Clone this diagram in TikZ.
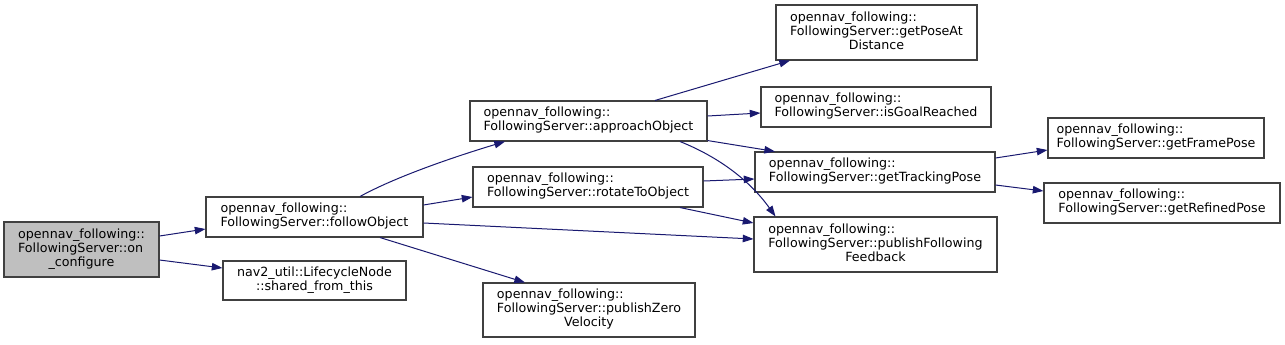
\documentclass[tikz,border=0pt]{standalone}
\usepackage{fontspec}
\setmainfont{DejaVu Sans}
\usetikzlibrary{arrows.meta,calc}
\definecolor{edgeblue}{HTML}{191970}
\definecolor{boxline}{HTML}{404040}
\definecolor{rootfill}{HTML}{BFBFBF}
\tikzset{
  box/.style={draw=boxline, line width=0.8pt, fill=white, inner sep=0pt, font=\fontsize{9.5}{10.6}\selectfont},
  root/.style={box, fill=rootfill},
  edge/.style={draw=edgeblue, line width=0.75pt, -{Triangle[length=8pt,width=5.6pt]}}
}
\newcommand{\twol}[2]{\begin{tabular}{@{}l@{}}#1\\#2\end{tabular}}
\newcommand{\threel}[3]{\begin{tabular}{@{}l@{}}#1\\#2\\\multicolumn{1}{@{}c@{}}{#3}\end{tabular}}
\newcommand{\twoc}[2]{\begin{tabular}{@{}c@{}}#1\\#2\end{tabular}}
\begin{document}
\begin{tikzpicture}[x=0.75pt,y=-0.75pt]
\useasboundingbox (0,0) rectangle (1285,344);
\fill[white] (0,0) rectangle (1285,344);
\node[root, minimum width=116.25pt, minimum height=41.25pt] (oc) at (81.5,249.5) {\threel{opennav\_following::}{FollowingServer::on}{\_configure}};
\node[box, minimum width=162.75pt, minimum height=30pt] (fo) at (314.5,217) {\twol{opennav\_following::}{FollowingServer::followObject}};
\node[box, minimum width=137.25pt, minimum height=29.25pt] (sft) at (314.5,280.5) {\twoc{nav2\_util::LifecycleNode}{::shared\_from\_this}};
\node[box, minimum width=177.75pt, minimum height=30pt] (ao) at (588.5,121) {\twol{opennav\_following::}{FollowingServer::approachObject}};
\node[box, minimum width=172.5pt, minimum height=30pt] (ro) at (588,187) {\twol{opennav\_following::}{FollowingServer::rotateToObject}};
\node[box, minimum width=159pt, minimum height=40.5pt] (pzv) at (589,310) {\threel{opennav\_following::}{FollowingServer::publishZero}{Velocity}};
\node[box, minimum width=150.75pt, minimum height=41.25pt] (gpad) at (876.5,32.5) {\threel{opennav\_following::}{FollowingServer::getPoseAt}{Distance}};
\node[box, minimum width=172.5pt, minimum height=30pt] (igr) at (876,107) {\twol{opennav\_following::}{FollowingServer::isGoalReached}};
\node[box, minimum width=180pt, minimum height=30pt] (gtp) at (875,172) {\twol{opennav\_following::}{FollowingServer::getTrackingPose}};
\node[box, minimum width=182.25pt, minimum height=41.25pt] (pff) at (875.5,244.5) {\threel{opennav\_following::}{FollowingServer::publishFollowing}{Feedback}};
\node[box, minimum width=162pt, minimum height=30pt] (gfp) at (1156,138) {\twol{opennav\_following::}{FollowingServer::getFramePose}};
\node[box, minimum width=177pt, minimum height=30pt] (grp) at (1162,203) {\twol{opennav\_following::}{FollowingServer::getRefinedPose}};

\draw[edge] ($(oc.east)+(0,-13.5)$) -- ($(fo.west)+(0,12)$);
\draw[edge] ($(oc.east)+(0,10.5)$) -- ($(sft.west)+(0,-12.5)$);
\draw[edge] ($(fo.north)+(45.5,0)$) .. controls +(40,-22) and +(-40,12) .. ($(ao.south)+(-83.5,0)$);
\draw[edge] ($(fo.east)+(0,-12)$) -- ($(ro.west)+(0,10)$);
\draw[edge] ($(fo.east)+(0,6)$) -- ($(pff.west)+(0,-5.5)$);
\draw[edge] ($(fo.south)+(65.5,0)$) -- ($(pzv.north)+(-64,0)$);
\draw[edge] ($(ao.north)+(66.5,0)$) -- ($(gpad.south)+(-86.5,0)$);
\draw[edge] ($(ao.east)+(0,-5)$) -- ($(igr.west)+(0,6)$);
\draw[edge] ($(ao.south east)+(0,-1)$) -- ($(gtp.north)+(-100,0)$);
\draw[edge] ($(ao.south)+(91.5,0)$) .. controls +(40,16) and +(-25,-35) .. ($(pff.north)+(-100,0)$);
\draw[edge] ($(ro.east)+(0,-6)$) -- ($(gtp.west)+(0,7)$);
\draw[edge] ($(ro.south)+(92,0)$) -- ($(pff.west)+(0,-21.5)$);
\draw[edge] ($(gtp.east)+(0,-14)$) -- ($(gfp.west)+(0,12)$);
\draw[edge] ($(gtp.east)+(0,13)$) -- ($(grp.west)+(0,-12)$);
\end{tikzpicture}
\end{document}
